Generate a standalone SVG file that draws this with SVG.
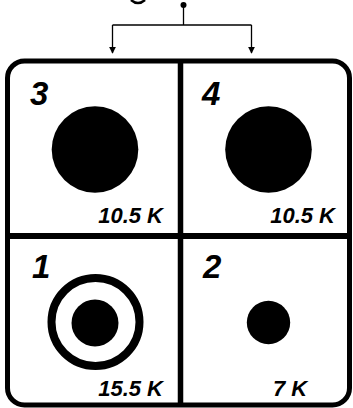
<svg xmlns="http://www.w3.org/2000/svg" width="353" height="408" viewBox="0 0 353 408">
<style>
.num{font-family:"Liberation Sans",Arial,sans-serif;font-weight:bold;font-style:italic;font-size:33px;fill:#000}
.val{font-family:"Liberation Sans",Arial,sans-serif;font-weight:bold;font-style:italic;font-size:22px;fill:#000}
.ln{stroke:#000;stroke-width:1.3;fill:none}
.frame{stroke:#000;fill:none}
</style>
<defs>
<marker id="arr" viewBox="0 0 10 10" refX="9" refY="5" markerWidth="7" markerHeight="7" markerUnits="userSpaceOnUse" orient="auto">
<path d="M0,0 L10,5 L0,10 Z" fill="#000"/>
</marker>
</defs>
<rect width="353" height="408" fill="#fff"/>
<path d="M131,0 Q138,6 145,0" stroke="#000" stroke-width="2.5" fill="none"/>
<g id="connectors">
<circle cx="183.5" cy="5" r="3" fill="#000"/>
<path class="ln" d="M183.5,5 V25"/>
<path class="ln" d="M112.5,25 H251.5"/>
<path class="ln" d="M112.5,25 V53" marker-end="url(#arr)"/>
<path class="ln" d="M251.5,25 V53" marker-end="url(#arr)"/>
</g>
<g id="frame">
<rect class="frame" x="7.5" y="61" width="342" height="344" rx="17" stroke-width="5"/>
<path class="frame" d="M180.5,61 V405" stroke-width="5.5"/>
<path class="frame" d="M7.5,236 H349.5" stroke-width="6"/>
</g>
<g id="cell3">
<text class="num" x="30" y="105">3</text>
<circle cx="95" cy="149.5" r="43.3" fill="#000"/>
<text class="val" x="163" y="223" text-anchor="end">10.5 K</text>
</g>
<g id="cell4">
<text class="num" x="202" y="105">4</text>
<circle cx="268.5" cy="149.5" r="43.3" fill="#000"/>
<text class="val" x="335" y="223" text-anchor="end">10.5 K</text>
</g>
<g id="cell1">
<text class="num" x="32" y="278">1</text>
<circle cx="95.5" cy="322" r="44" fill="none" stroke="#000" stroke-width="8"/>
<circle cx="95" cy="323" r="23.5" fill="#000"/>
<text class="val" x="163" y="396" text-anchor="end">15.5 K</text>
</g>
<g id="cell2">
<text class="num" x="203" y="278">2</text>
<circle cx="268.5" cy="322.5" r="21.7" fill="#000"/>
<text class="val" x="273" y="396">7 K</text>
</g>
</svg>
